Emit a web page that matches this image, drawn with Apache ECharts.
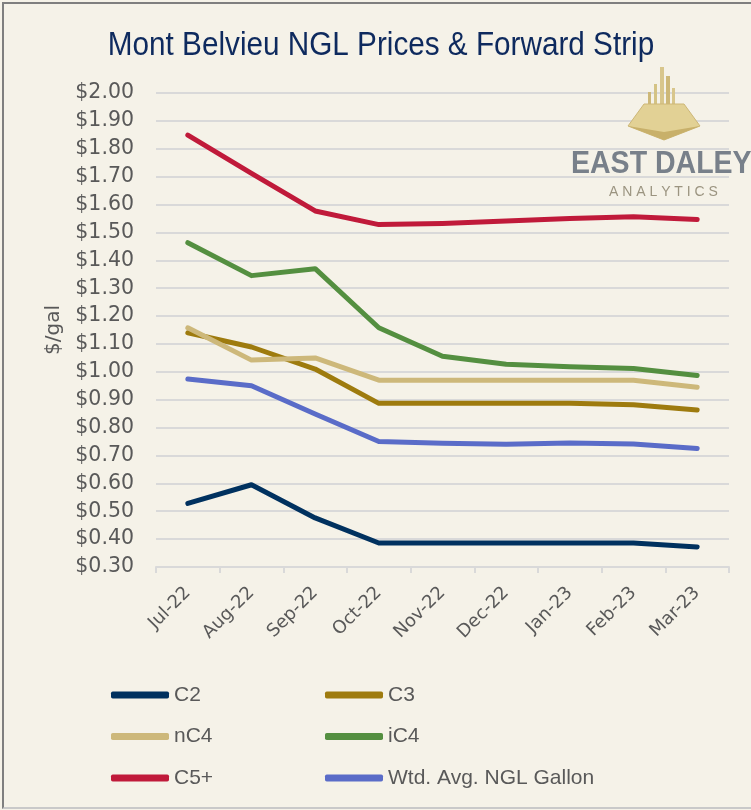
<!DOCTYPE html>
<html>
<head>
<meta charset="utf-8">
<title>Mont Belvieu NGL Prices & Forward Strip</title>
<script src="https://cdn.jsdelivr.net/npm/echarts@6/dist/echarts.min.js"></script>
<style>
  html, body { margin: 0; padding: 0; background: #ffffff; }
  #chart { position: absolute; left: 0; top: 0; width: 751px; height: 810px; background: #f5f2e8; }
  #frame { position: absolute; left: 2px; top: 2px; width: 800px; height: 803px;
           border-left: 2px solid #7f7f7f; border-top: 2px solid #7f7f7f; border-bottom: 2px solid #c9c9c9;
           pointer-events: none; }
</style>
</head>
<body>
<div id="chart"></div>
<div id="frame"></div>
<script>
// months on the x axis
var months = ['Jul-22', 'Aug-22', 'Sep-22', 'Oct-22', 'Nov-22', 'Dec-22', 'Jan-23', 'Feb-23', 'Mar-23']

// $/gal
var c2  = [0.528, 0.595, 0.476, 0.386, 0.386, 0.386, 0.386, 0.386, 0.372]
var c3  = [1.140, 1.089, 1.010, 0.887, 0.887, 0.887, 0.887, 0.882, 0.863]
var nc4 = [1.158, 1.042, 1.050, 0.970, 0.970, 0.970, 0.970, 0.970, 0.945]
var ic4 = [1.463, 1.345, 1.370, 1.158, 1.056, 1.027, 1.018, 1.012, 0.987]
var c5  = [1.849, 1.712, 1.577, 1.528, 1.532, 1.541, 1.550, 1.556, 1.546]
var wtd = [0.974, 0.950, 0.849, 0.750, 0.744, 0.740, 0.745, 0.741, 0.725]

var yMin = 0.3
var yMax = 2.0
var yStep = 0.1

var gray = '#595959'
var sans = 'DejaVu Sans'
var plain = '"Liberation Sans", sans-serif'

function line(name, data, color) {
  return {
    name: name,
    type: 'line',
    data: data,
    symbol: 'none',
    lineStyle: { color: color, width: 5, cap: 'round', join: 'round' },
    itemStyle: { color: color }
  }
}

var chart = echarts.init(document.getElementById('chart'))
chart.setOption({
  backgroundColor: '#f5f2e8',
  animation: false,
  graphic: [
    // title, squeezed a little to look like the condensed face
    { type: 'text', x: 381, y: 46, scaleX: 0.9,
      style: { text: 'Mont Belvieu NGL Prices & Forward Strip', fill: '#0e2a5e',
               font: '33px ' + plain, textAlign: 'center', textVerticalAlign: 'middle' } },
    // logo, top right
    { type: 'rect', shape: { x: 660, y: 67, width: 4, height: 50 }, style: { fill: '#d8c68c' }, z: 1 },
    { type: 'rect', shape: { x: 666, y: 76, width: 4, height: 42 }, style: { fill: '#cdb878' }, z: 1 },
    { type: 'rect', shape: { x: 654, y: 84, width: 3, height: 32 }, style: { fill: '#d4c385' }, z: 1 },
    { type: 'rect', shape: { x: 672, y: 88, width: 3, height: 28 }, style: { fill: '#d8c68c' }, z: 1 },
    { type: 'rect', shape: { x: 648, y: 92, width: 3, height: 22 }, style: { fill: '#cdb878' }, z: 1 },
    { type: 'polygon', shape: { points: [[644, 104], [684, 104], [700, 126], [664, 140], [628, 126]] },
      style: { fill: '#e2d195', stroke: '#cdb777', lineWidth: 1 }, z: 1 },
    { type: 'polygon', shape: { points: [[628, 126], [664, 132], [700, 126], [664, 140]] },
      style: { fill: '#c8b06a' }, z: 1 },
    { type: 'text', x: 571, y: 164, scaleX: 0.92,
      style: { text: 'EAST DALEY', fill: '#78808a', font: 'bold 31px ' + plain, textVerticalAlign: 'middle' }, z: 1 },
    { type: 'text', x: 609, y: 192,
      style: { text: 'A N A L Y T I C S', fill: '#9b9480', font: '14px ' + plain, textVerticalAlign: 'middle' }, z: 1 }
  ],
  legend: [
    {
      data: ['C2', 'nC4', 'C5+'],
      orient: 'vertical',
      left: 106, top: 679,
      icon: 'roundRect',
      itemWidth: 58, itemHeight: 7,
      itemGap: 19.5,
      textStyle: { color: gray, fontFamily: plain, fontSize: 21, lineHeight: 22 }
    },
    {
      data: ['C3', 'iC4', 'Wtd. Avg. NGL Gallon'],
      orient: 'vertical',
      left: 320, top: 679,
      icon: 'roundRect',
      itemWidth: 58, itemHeight: 7,
      itemGap: 19.5,
      textStyle: { color: gray, fontFamily: plain, fontSize: 21, lineHeight: 22 }
    }
  ],
  grid: { left: 156, right: 22, top: 93, bottom: 243, containLabel: false },
  xAxis: {
    type: 'category',
    data: months,
    boundaryGap: true,
    axisLine: { lineStyle: { color: '#d9d9d9', width: 2 } },
    axisTick: { show: true, length: 6, lineStyle: { color: '#d9d9d9', width: 2 } },
    axisLabel: { rotate: 45, color: gray, fontFamily: sans, fontSize: 18, margin: 23, interval: 0 }
  },
  yAxis: {
    type: 'value',
    min: yMin,
    max: yMax,
    interval: yStep,
    name: '$/gal',
    nameLocation: 'middle',
    nameGap: 92,
    nameTextStyle: { color: gray, fontFamily: sans, fontSize: 20 },
    axisLine: { show: false },
    axisTick: { show: false },
    axisLabel: {
      color: gray, fontFamily: sans, fontSize: 20.5, margin: 22,
      padding: [10, 0, 0, 0],
      formatter: function (v) { return '$' + v.toFixed(2) }
    },
    splitLine: { lineStyle: { color: '#d9d9d9', width: 2 } }
  },
  series: [
    line('C2', c2, '#00315f'),
    line('C3', c3, '#9e7b0e'),
    line('nC4', nc4, '#cdb87a'),
    line('iC4', ic4, '#548f40'),
    line('C5+', c5, '#c01a3a'),
    line('Wtd. Avg. NGL Gallon', wtd, '#5a6cc8')
  ]
})
</script>
</body>
</html>
